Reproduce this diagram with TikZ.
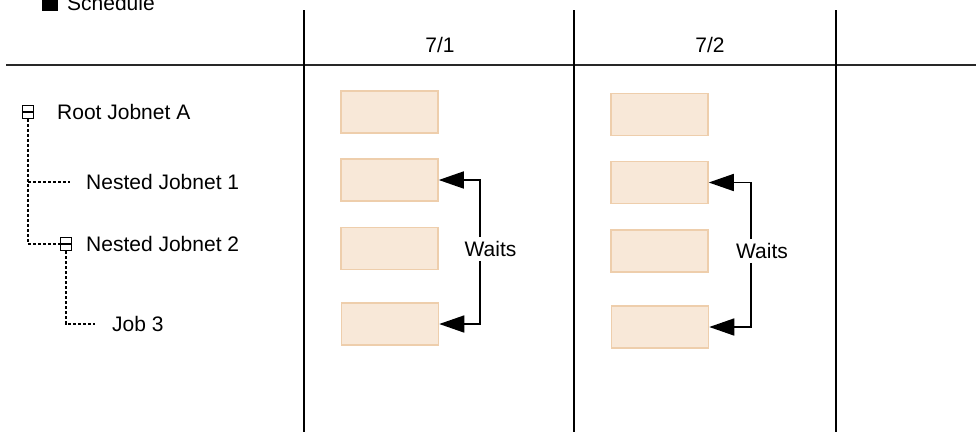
\documentclass[tikz,border=0pt]{standalone}
\usepackage{fontspec}
\setmainfont{Liberation Sans}
\usetikzlibrary{arrows.meta}
\definecolor{boxfill}{RGB}{248,232,216}
\definecolor{boxline}{RGB}{238,206,172}
\definecolor{hline}{RGB}{40,40,40}
\tikzset{
  txt/.style={font=\fontsize{21}{25}\selectfont, inner sep=0pt},
  jobbox/.style={draw=boxline, fill=boxfill, line width=1.5pt, minimum width=97pt, minimum height=42pt, inner sep=0pt},
  treeicon/.style={draw, line width=1.4pt, minimum width=11pt, minimum height=13pt, inner sep=0pt,
    path picture={\draw[line width=1.4pt] (path picture bounding box.west) -- (path picture bounding box.east);}},
  treeline/.style={line width=1.4pt, dash pattern=on 3pt off 2pt},
  divider/.style={line width=2pt},
  waitarrow/.style={line width=1.6pt, -{Triangle[length=25pt,width=17pt]}},
  waitlabel/.style={txt, inner sep=4pt}
}
\begin{document}
\begin{tikzpicture}[x=1pt,y=-1pt]
\clip (0,0) rectangle (976,432);
\fill[white] (0,0) rectangle (976,432);

% header
\fill (42,-5) rectangle (58,11);
\node[txt, anchor=base west] (sched) at (67,10) {Schedule};
\draw[divider, color=hline] (6,65) -- (976,65);
\draw[divider] (304,10) -- (304,432);
\draw[divider] (574,10) -- (574,432);
\draw[divider] (836,10) -- (836,432);
\node[txt] (d1) at (440,45) {7/1};
\node[txt] (d2) at (710,45) {7/2};

% tree
\node[treeicon] (ri) at (28,112) {};
\node[txt, anchor=west] (rt) at (57,112) {Root Jobnet A};
\node[txt, anchor=west] (n1) at (86,182) {Nested Jobnet 1};
\node[treeicon] (ni) at (66,244) {};
\node[txt, anchor=west] (n2) at (86,244) {Nested Jobnet 2};
\node[txt, anchor=west] (j3) at (112,324) {Job 3};
\coordinate (n1end) at (70,182);
\coordinate (j3end) at (95,324);
\draw[treeline] (ri.south) |- (ni.west);
\draw[treeline] (ri.south |- n1end) -- (n1end);
\draw[treeline] (ni.south) |- (j3end);

% column 7/1
\node[jobbox] (a1) at (389.5,112) {};
\node[jobbox] (a2) at (389.5,180) {};
\node[jobbox] (a3) at (389.5,248.5) {};
\node[jobbox] (a4) at (390,324) {};
\node[waitlabel] (wa) at (490.5,249) {Waits};
\coordinate (ka) at (480,249);
\draw[waitarrow] (wa.north -| ka) |- (a2.east);
\draw[waitarrow] (wa.south -| ka) |- (a4.east);

% column 7/2
\node[jobbox] (b1) at (659.5,114.5) {};
\node[jobbox] (b2) at (659.5,182.5) {};
\node[jobbox] (b3) at (659.5,251) {};
\node[jobbox] (b4) at (660,327) {};
\node[waitlabel] (wb) at (762,251) {Waits};
\coordinate (kb) at (751,251);
\draw[waitarrow] (wb.north -| kb) |- (b2.east);
\draw[waitarrow] (wb.south -| kb) |- (b4.east);
\end{tikzpicture}
\end{document}
